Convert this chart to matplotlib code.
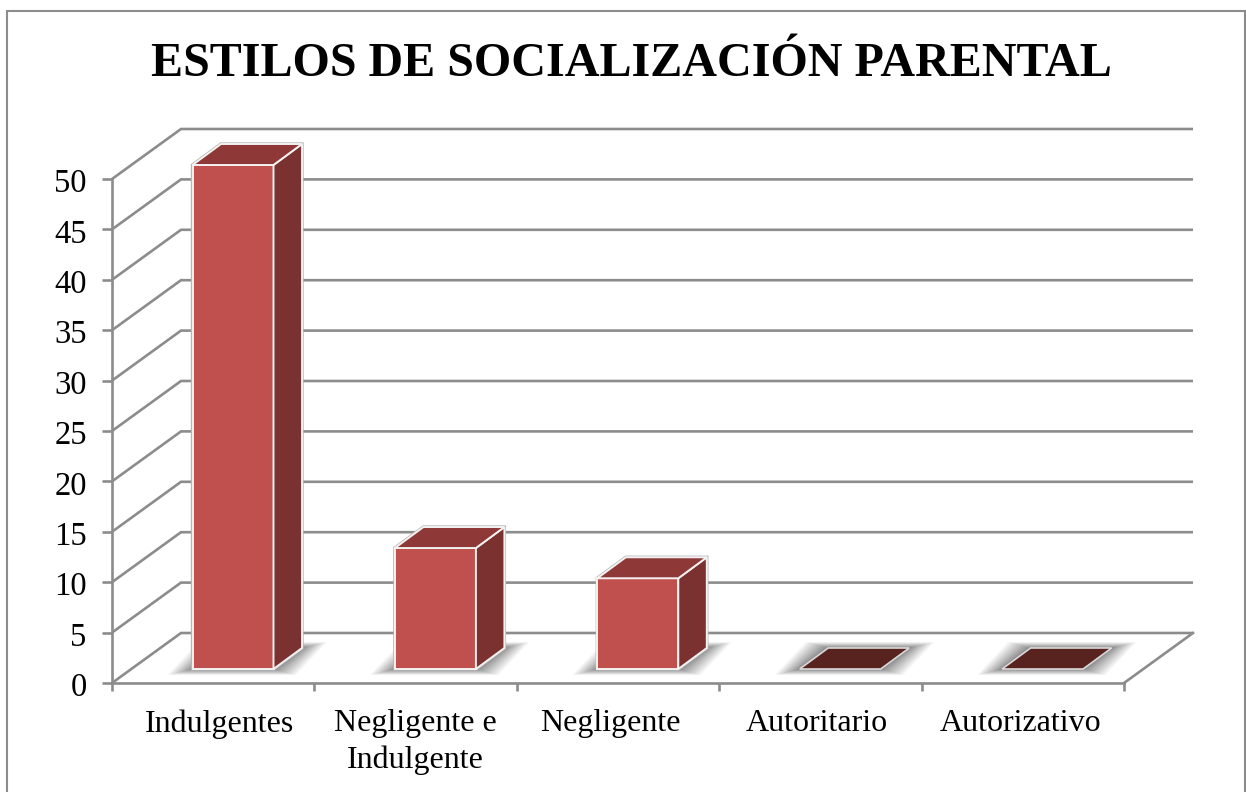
import matplotlib
matplotlib.use("Agg")
import matplotlib.pyplot as plt
from matplotlib.patches import Polygon, Rectangle
from matplotlib.transforms import ScaledTranslation

plt.rcParams['font.family'] = ['Liberation Serif', 'DejaVu Serif']

TITLE = "ESTILOS DE SOCIALIZACIÓN PARENTAL"
categories = ["Indulgentes", "Negligente e\nIndulgente", "Negligente", "Autoritario", "Autorizativo"]
values = [50, 12, 9, 0, 0]
y_ticks = [0, 5, 10, 15, 20, 25, 30, 35, 40, 45, 50]

W, H = 1246, 792
L, B, R, T = 112, 683, 1193, 129        # plot box in pixels (including the 3-D depth)
CAT_PX = 202.4                          # one category, pixels
UNIT_PX = 10.08                         # one value unit, pixels
GRID = "#8C8C8C"
LW = 1.9
FRONT, SIDE, TOP, FLAT = "#C0504D", "#7B3130", "#8E3937", "#58221F"
label_shift_px = [6, 0, -8, -4, -2]

fig = plt.figure(figsize=(W / 100, H / 100), dpi=100, facecolor="white")
fig.add_artist(Rectangle((6.5 / W, -0.02), (W - 1 - 6.5) / W, 1.02 - 11 / H, transform=fig.transFigure,
                         fill=False, ec="#8C8C8C", lw=1.5))

ax = fig.add_axes([L / W, (H - B) / H, (R - L) / W, (B - T) / H], facecolor="none")
ax.set_xlim(0, (R - L) / CAT_PX)
ax.set_ylim(0, (B - T) / UNIT_PX)

# depth of the box and of the bars, in data units
box_dx, box_dy = 69 / CAT_PX, 50 / UNIT_PX
bar_dx, bar_dy = 28.5 / CAT_PX, 21 / UNIT_PX
bar_x0, bar_w = 80.5 / CAT_PX, 81 / CAT_PX
bar_y0 = 14 / UNIT_PX
n = len(categories)

# walls and floor
for v in y_ticks:
    ax.plot([0, box_dx, n + box_dx], [v, v + box_dy, v + box_dy], color=GRID, lw=LW,
            clip_on=False, zorder=1, solid_joinstyle="miter", solid_capstyle="butt")
ax.plot([n, n + box_dx], [0, box_dy], color=GRID, lw=LW, clip_on=False, zorder=1)

# floor shadows
LAYERS = 26
for i in range(n):
    x0 = i + bar_x0
    for k in range(LAYERS):
        f = (1 - k / LAYERS) ** 1.5
        ex, ey = f * 25 / CAT_PX, f * 6 / UNIT_PX
        shadow = [(x0 - ex, bar_y0 - ey), (x0 + bar_w + ex * 0.9, bar_y0 - ey),
                  (x0 + bar_w + bar_dx + ex, bar_y0 + bar_dy + ey), (x0 + bar_dx - ex * 0.9, bar_y0 + bar_dy + ey)]
        ax.add_patch(Polygon(shadow, closed=True, fc="#404040", ec="none", alpha=0.035, zorder=2, clip_on=False))

# bars
for i, v in enumerate(values):
    x0, x1 = i + bar_x0, i + bar_x0 + bar_w
    y0, y1 = bar_y0, bar_y0 + v
    if v == 0:
        top = [(x0, y0), (x1, y0), (x1 + bar_dx, y0 + bar_dy), (x0 + bar_dx, y0 + bar_dy)]
        ax.add_patch(Polygon(top, closed=True, fc=FLAT, ec="#D9D9D9", lw=1.2, zorder=4, clip_on=False))
        continue
    outline = [(x0, y0), (x1, y0), (x1 + bar_dx, y0 + bar_dy), (x1 + bar_dx, y1 + bar_dy),
               (x0 + bar_dx, y1 + bar_dy), (x0, y1)]
    ax.add_patch(Polygon(outline, closed=True, fc="none", ec="#B5B5B5", lw=2.4, zorder=3, clip_on=False))
    faces = [
        ([(x0, y0), (x1, y0), (x1, y1), (x0, y1)], FRONT),
        ([(x1, y0), (x1 + bar_dx, y0 + bar_dy), (x1 + bar_dx, y1 + bar_dy), (x1, y1)], SIDE),
        ([(x0, y1), (x1, y1), (x1 + bar_dx, y1 + bar_dy), (x0 + bar_dx, y1 + bar_dy)], TOP),
    ]
    for pts, col in faces:
        ax.add_patch(Polygon(pts, closed=True, fc=col, ec="#F4F1F1", lw=1.4, zorder=4, clip_on=False,
                             joinstyle="miter"))

# axes
for side in ("top", "right"):
    ax.spines[side].set_visible(False)
for side in ("left", "bottom"):
    ax.spines[side].set_color(GRID)
    ax.spines[side].set_linewidth(LW)
ax.spines["left"].set_bounds(0, y_ticks[-1])
ax.spines["bottom"].set_bounds(0, n)

ax.set_yticks(y_ticks)
ax.set_yticklabels([str(v) for v in y_ticks])
ax.tick_params(axis="y", length=7.2, width=LW, color=GRID, labelsize=23.5, pad=11, labelcolor="black")
ax.set_xticks(range(n + 1))
ax.set_xticklabels([""] * (n + 1))
ax.tick_params(axis="x", which="major", length=5.8, width=LW, color=GRID)
ax.set_xticks([i + 0.5 for i in range(n)], minor=True)
ax.set_xticklabels(categories, minor=True, fontsize=23, linespacing=1.31)
ax.tick_params(axis="x", which="minor", length=0, pad=19, labelcolor="black")

for lbl in ax.get_yticklabels():
    lbl.set_transform(lbl.get_transform() + ScaledTranslation(0, -1.5 / 100, fig.dpi_scale_trans))
for lbl, dx in zip(ax.get_xticklabels(minor=True), label_shift_px):
    lbl.set_transform(lbl.get_transform() + ScaledTranslation(dx / 100, 0, fig.dpi_scale_trans))

fig.text(631 / W, 1 - 76 / H, TITLE, ha="center", va="baseline", fontsize=34.6, fontweight="bold", color="black")

fig.savefig("out.png", dpi=100)
